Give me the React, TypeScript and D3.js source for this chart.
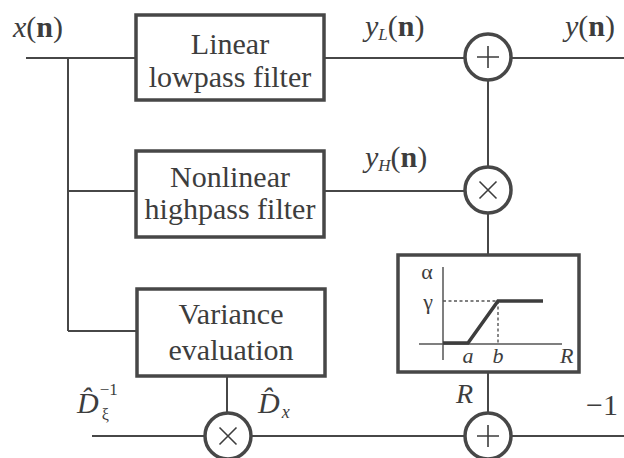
import * as d3 from "d3";

// block labels (two lines each)
const blockLabels: [string, string][] = [
  ["Linear", "lowpass filter"],
  ["Nonlinear", "highpass filter"],
  ["Variance", "evaluation"],
];

// operator nodes: sum, product, product, sum
const nodeOps = ["+", "×", "×", "+"];

// inset characteristic alpha(R): breakpoints 0, a, b, end
const insetR = [0, 1, 2.2, 4];
const insetAlpha = [0, 0, 1, 1];
const insetTickLabels = ["a", "b", "R"];
const insetTickValues = [1, 2.2, 4.95];

const INK = "#3d3d3d";
const LINE = "#474747";
const TXT = { fontFamily: "'Liberation Serif', monospace" };

function OpNode({ cx, cy, op }: { cx: number; cy: number; op: string }) {
  const r = 23;
  const arm = op === "+" ? 11 : 8.5;
  return (
    <g>
      <circle cx={cx} cy={cy} r={r} fill="#fff" stroke={LINE} strokeWidth={3.5} />
      {op === "+" ? (
        <path
          d={`M${cx - arm},${cy}H${cx + arm}M${cx},${cy - arm}V${cy + arm}`}
          stroke={INK}
          strokeWidth={1.6}
        />
      ) : (
        <path
          d={`M${cx - arm},${cy - arm}L${cx + arm},${cy + arm}M${cx + arm},${cy - arm}L${cx - arm},${cy + arm}`}
          stroke={INK}
          strokeWidth={1.6}
        />
      )}
    </g>
  );
}

export default function App() {
  const W = 624;
  const H = 458;

  // boxes: left, top, right, bottom, text baselines
  const boxes = [
    { x0: 136, y0: 15, x1: 324, y1: 100, t1: 54, t2: 87 },
    { x0: 136, y0: 151, x1: 324, y1: 237, t1: 187, t2: 219 },
    { x0: 137, y0: 289, x1: 325, y1: 376, t1: 324, t2: 360 },
  ];
  const nodes = [
    { cx: 488, cy: 57 },
    { cx: 488, cy: 190 },
    { cx: 228, cy: 436 },
    { cx: 488, cy: 436 },
  ];
  const rBox = { x0: 398, y0: 255, x1: 579, y1: 372 };

  // inset scales
  const xs = d3.scaleLinear().domain([0, 4]).range([443, 543]);
  const ys = d3.scaleLinear().domain([0, 1]).range([343, 301]);
  const curve = d3
    .line<number>()
    .x((d) => xs(d))
    .y((_, i) => ys(insetAlpha[i]));

  const wires = [
    "M26,58H136",
    "M68,58V331",
    "M68,191H136",
    "M68,331H137",
    "M324,58H465",
    "M511,58H624",
    "M488,80V167",
    "M324,191H465",
    "M488,213V255",
    "M488,372V413",
    "M227,376V413",
    "M92,436H205",
    "M251,436H465",
    "M511,436H624",
  ];

  return (
    <svg width={W} height={H} style={{ position: "absolute", left: 0, top: 0, background: "#fff" }}>
      <rect width={W} height={H} fill="#fff" />
      {wires.map((d, i) => (
        <path key={i} d={d} stroke={LINE} strokeWidth={2} fill="none" />
      ))}

      {boxes.map((b, i) => (
        <g key={i}>
          <rect
            x={b.x0}
            y={b.y0}
            width={b.x1 - b.x0}
            height={b.y1 - b.y0}
            fill="#fff"
            stroke={LINE}
            strokeWidth={3.5}
          />
          <text style={TXT} x={(b.x0 + b.x1) / 2} y={b.t1} textAnchor="middle" fontSize={30} fill={INK}>
            {blockLabels[i][0]}
          </text>
          <text style={TXT} x={(b.x0 + b.x1) / 2} y={b.t2} textAnchor="middle" fontSize={30} fill={INK}>
            {blockLabels[i][1]}
          </text>
        </g>
      ))}

      {nodes.map((n, i) => (
        <OpNode key={i} cx={n.cx} cy={n.cy} op={nodeOps[i]} />
      ))}

      {/* alpha(R) characteristic */}
      <rect
        x={rBox.x0}
        y={rBox.y0}
        width={rBox.x1 - rBox.x0}
        height={rBox.y1 - rBox.y0}
        fill="#fff"
        stroke={LINE}
        strokeWidth={3.5}
      />
      <path d={`M${xs(0)},267V360`} stroke="#555" strokeWidth={1.5} />
      <path d={`M419,${ys(0) + 1}H562`} stroke="#555" strokeWidth={1.5} />
      <path
        d={`M${xs(0)},${ys(1)}H${xs(insetR[2])}V${ys(0)}`}
        stroke="#555"
        strokeWidth={1.4}
        strokeDasharray="3,2.5"
        fill="none"
      />
      <path d={curve(insetR) ?? ""} stroke={INK} strokeWidth={3.5} fill="none" />
      <text style={TXT} x={427} y={279} textAnchor="middle" fontSize={22} fill={INK}>α</text>
      <text style={TXT} x={428} y={309} textAnchor="middle" fontSize={22} fill={INK}>γ</text>
      {insetTickLabels.map((t, i) => (
        <text
          key={t}
          style={TXT}
          x={xs(insetTickValues[i])}
          y={363}
          textAnchor="middle"
          fontSize={22}
          fontStyle="italic"
          fill={INK}
        >
          {t}
        </text>
      ))}

      {/* signal labels */}
      <text style={TXT} x={13} y={37} fontSize={30} fill={INK}>
        <tspan fontStyle="italic">x</tspan>(<tspan fontWeight="bold">n</tspan>)
      </text>
      <text style={TXT} x={365} y={36} fontSize={30} fill={INK}>
        <tspan fontStyle="italic">y</tspan>
        <tspan fontStyle="italic" fontSize={17} dy={4}>L</tspan>
        <tspan dy={-4}>(</tspan>
        <tspan fontWeight="bold">n</tspan>)
      </text>
      <text style={TXT} x={565} y={36} fontSize={30} fill={INK}>
        <tspan fontStyle="italic">y</tspan>(<tspan fontWeight="bold">n</tspan>)
      </text>
      <text style={TXT} x={365} y={167} fontSize={30} fill={INK}>
        <tspan fontStyle="italic">y</tspan>
        <tspan fontStyle="italic" fontSize={17} dy={4}>H</tspan>
        <tspan dy={-4}>(</tspan>
        <tspan fontWeight="bold">n</tspan>)
      </text>
      <text style={TXT} x={456} y={403} fontSize={28} fontStyle="italic" fill={INK}>R</text>
      <text style={TXT} x={586} y={415} fontSize={30} fill={INK}>−1</text>

      {/* D-hat labels */}
      <text style={TXT} x={77} y={413} fontSize={30} fill={INK}>
        <tspan fontStyle="italic">{"D\u0302"}</tspan>
        <tspan fontSize={17} dx={1} dy={-18}>−1</tspan>
        <tspan fontSize={16} dx={-16} dy={25}>ξ</tspan>
      </text>
      <text style={TXT} x={258} y={413} fontSize={30} fill={INK}>
        <tspan fontStyle="italic">{"D\u0302"}</tspan>
        <tspan fontSize={18} fontStyle="italic" dx={2} dy={5}>x</tspan>
      </text>
    </svg>
  );
}
